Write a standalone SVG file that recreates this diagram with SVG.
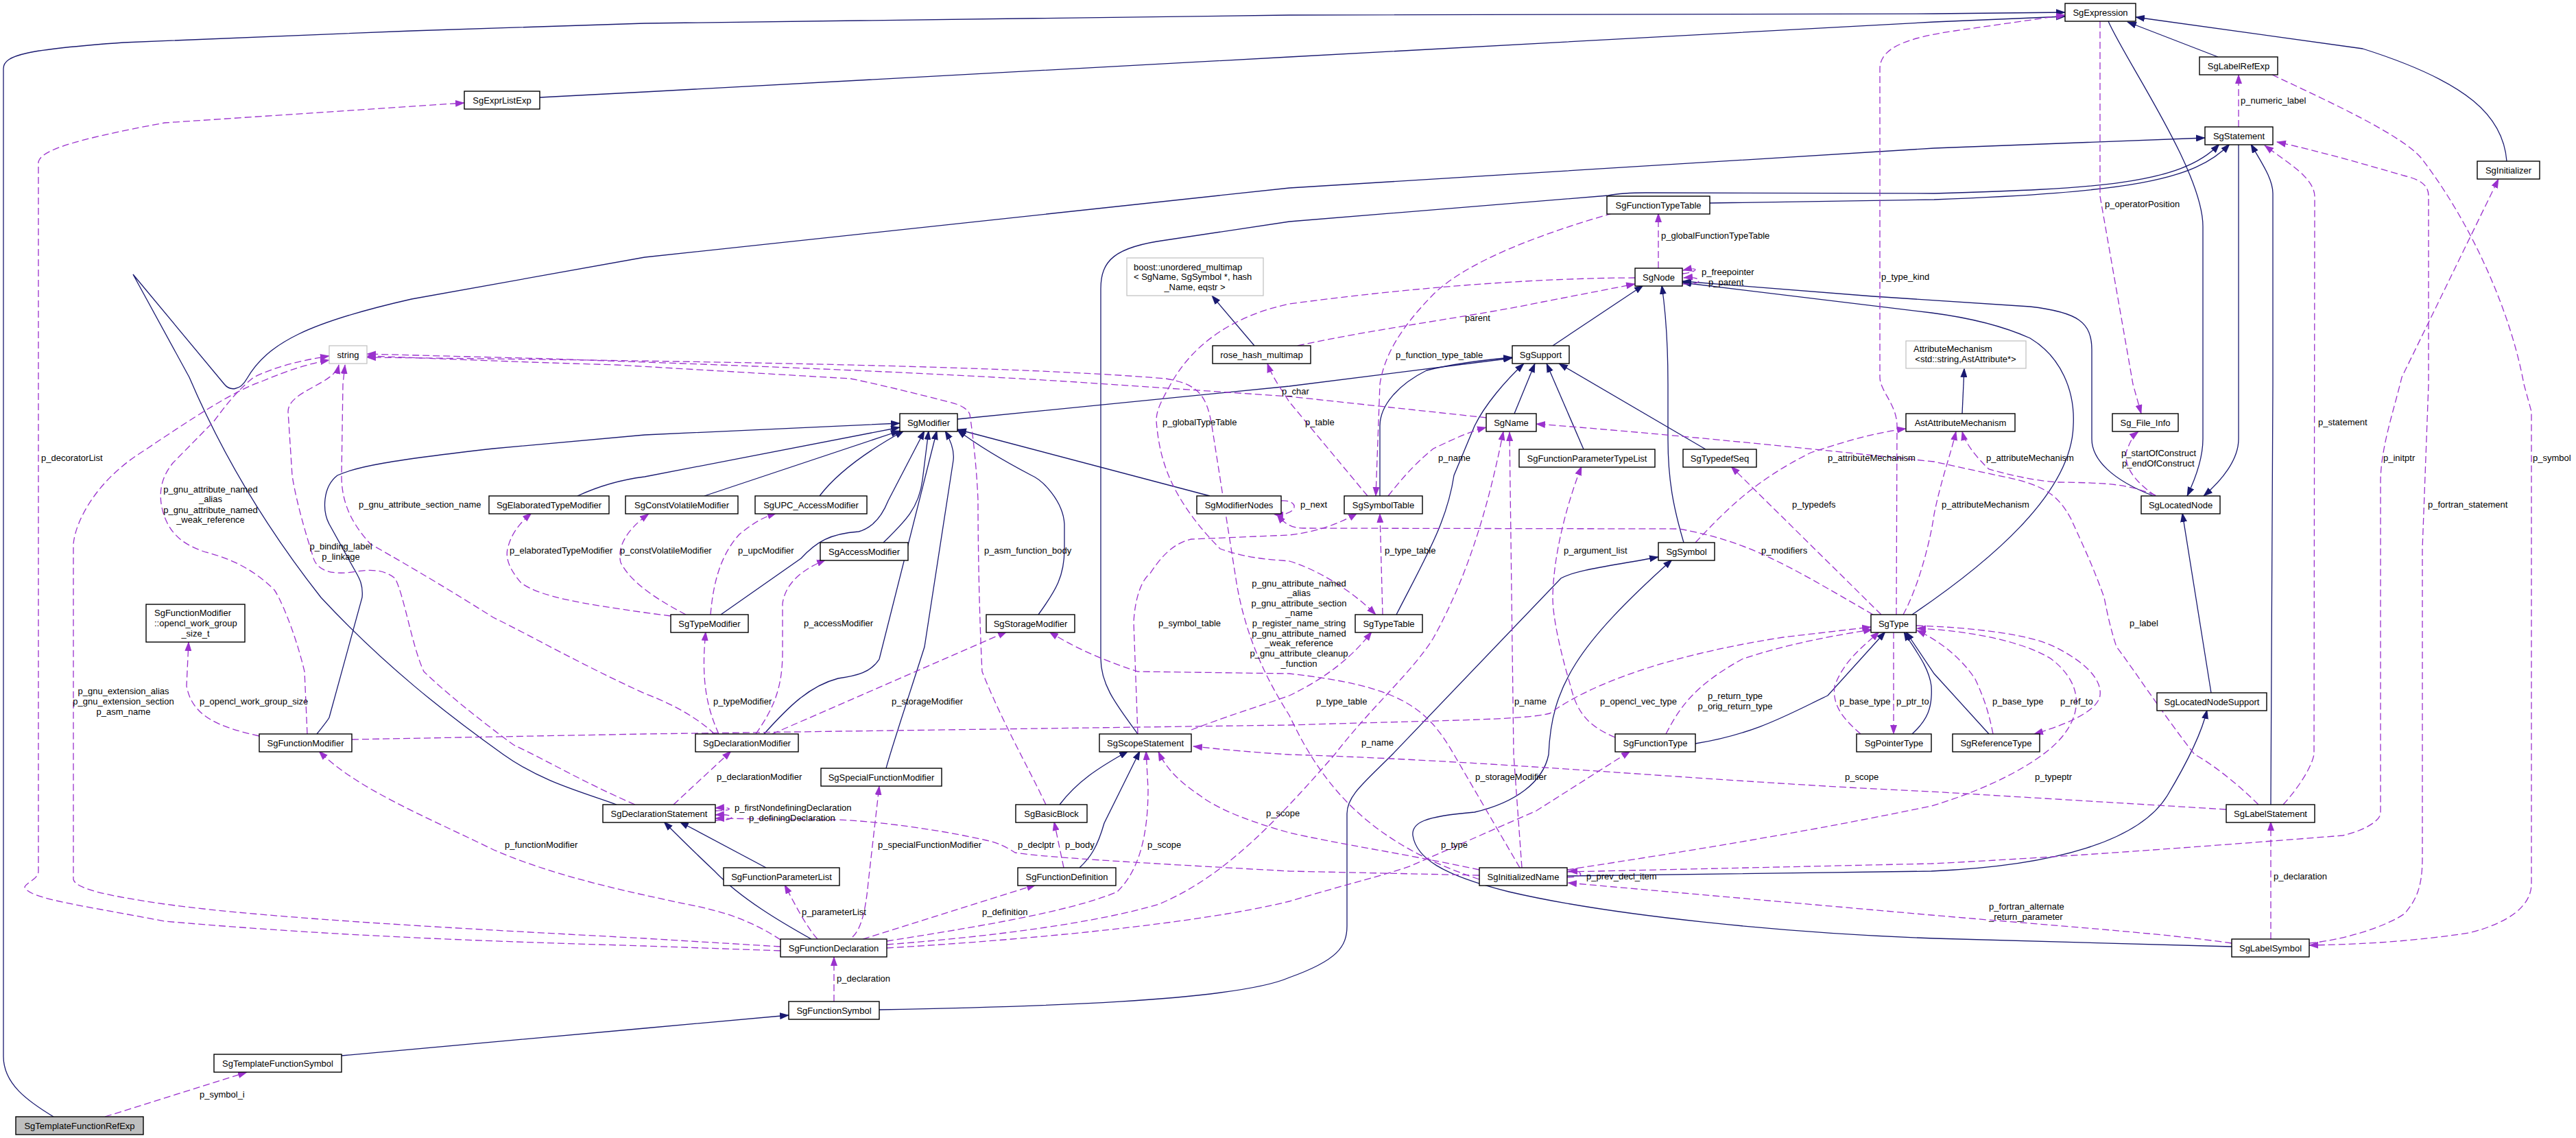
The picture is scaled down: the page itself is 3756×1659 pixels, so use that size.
<svg xmlns="http://www.w3.org/2000/svg" width="3756" height="1659" viewBox="0 0 3756 1659">
<defs>
<marker id="an" viewBox="0 0 14 10" refX="13" refY="5" markerWidth="14" markerHeight="10" markerUnits="userSpaceOnUse" orient="auto"><path d="M0,0 L14,5 L0,10 z" fill="#191970"/></marker>
<marker id="ap" viewBox="0 0 14 10" refX="13" refY="5" markerWidth="14" markerHeight="10" markerUnits="userSpaceOnUse" orient="auto"><path d="M0,0 L14,5 L0,10 z" fill="#9a32cd"/></marker>
<style>
.i{fill:none;stroke:#191970;stroke-width:1.3;marker-end:url(#an)}
.u{fill:none;stroke:#9a32cd;stroke-width:1.3;stroke-dasharray:10,5;marker-end:url(#ap)}
.n rect{fill:#fff;stroke:#000;stroke-width:1.4}
.x rect{fill:#fff;stroke:#bfbfbf;stroke-width:1.2}
text{font-family:"Liberation Sans",Arial,sans-serif;font-size:13px;fill:#000}
.n text,.x text{text-anchor:middle}
.m{text-anchor:middle}
</style>
</defs>
<rect width="3756" height="1659" fill="#fff"/>
<g id="connectors">
<path class="i" d="M78,1628 C40,1605 5,1580 5,1540 L5,100 C5,80 40,72 180,62 L600,45 L940,34 L1880,22 L2820,20 L3011,18"/>
<path class="i" d="M787,142 L940,134 L1880,83 L2820,32 L3011,24"/>
<path class="i" d="M3234,83 L3102,32"/>
<path class="i" d="M3655,235 C3650,170 3600,120 3445,71 L3114,25"/>
<path class="i" d="M3074,31 C3100,90 3212,250 3212,330 L3212,640 C3212,670 3200,700 3189,723"/>
<path class="i" d="M3264,210 L3264,640 C3264,670 3240,700 3213,723"/>
<path class="i" d="M3140,723 C3080,700 3050,670 3050,640 L3050,510 C3050,470 3030,455 2960,447 L2731,432 L2453,410"/>
<path class="i" d="M2788,896 C2900,820 3020,720 3023,621 C3026,570 3005,520 2960,493 C2920,475 2870,463 2816,456 L2453,412"/>
<path class="i" d="M2264,504 L2396,416"/>
<path class="i" d="M2455,791 C2440,740 2432,700 2432,640 L2432,560 C2432,500 2428,450 2423,416"/>
<path class="i" d="M1829,504 L1767,431"/>
<path class="i" d="M2493,296 L2820,291 C3100,280 3200,264 3251,210"/>
<path class="i" d="M1659,1070 C1630,1030 1605,1000 1605,960 L1605,421 C1605,380 1625,360 1700,350 L1880,323 L2345,285 C2360,282 2380,281 2400,281 L2820,282 C3050,275 3180,270 3236,210"/>
<path class="i" d="M899,1173 C850,1155 790,1140 734,1100 C650,1040 560,970 468,871 C420,810 340,700 276,550 L194,400 L327,560 C335,570 350,570 360,552 C390,500 450,470 600,436 L940,375 L1880,274 L2820,216 L3215,201"/>
<path class="i" d="M3311,1173 L3314,560 L3314,282 C3314,260 3296,235 3282,210"/>
<path class="i" d="M3224,1010 L3182,748"/>
<path class="i" d="M2285,1277 L2816,1270 C3000,1262 3120,1225 3160,1160 C3190,1110 3210,1070 3218,1035"/>
<path class="i" d="M3254,1380 L2820,1368 C2600,1360 2350,1335 2200,1300 C2100,1275 2065,1250 2060,1218 C2058,1200 2075,1190 2150,1184 C2210,1170 2250,1140 2258,1100 C2262,1000 2300,940 2438,816"/>
<path class="i" d="M1282,1472 C1500,1468 1800,1460 1880,1425 C1950,1400 1964,1380 1964,1350 L1964,1186 C1964,1160 1990,1140 2030,1100 L2276,843 C2300,830 2350,825 2418,812"/>
<path class="i" d="M498,1539 L940,1499 L1150,1480"/>
<path class="i" d="M1183,1369 C1140,1345 1080,1310 1042,1270 C1010,1240 990,1220 968,1198"/>
<path class="i" d="M1117,1265 L991,1198"/>
<path class="i" d="M1545,1173 C1570,1140 1600,1120 1645,1095"/>
<path class="i" d="M1574,1265 C1590,1250 1600,1235 1610,1200 L1662,1095"/>
<path class="i" d="M1396,611 L1880,563 L2205,522"/>
<path class="i" d="M2012,723 L2012,621 C2012,590 2040,560 2080,540 C2120,530 2160,525 2205,521"/>
<path class="i" d="M2036,896 C2080,810 2110,760 2120,693 L2150,621 C2165,590 2195,555 2222,530"/>
<path class="i" d="M2208,603 L2238,530"/>
<path class="i" d="M2309,655 L2255,530"/>
<path class="i" d="M2487,655 L2273,530"/>
<path class="i" d="M1764,723 L1396,626"/>
<path class="i" d="M842,723 C870,710 900,700 940,695 L1312,623"/>
<path class="i" d="M1027,723 L1312,628"/>
<path class="i" d="M1195,723 C1220,690 1260,660 1318,628"/>
<path class="i" d="M1051,896 L1168,814 C1190,790 1210,778 1252,775 C1270,770 1285,755 1295,730 L1348,628"/>
<path class="i" d="M1288,791 C1320,760 1340,740 1345,700 L1354,628"/>
<path class="i" d="M1114,1070 C1150,1030 1180,1000 1222,989 C1250,985 1270,980 1282,961 L1366,628"/>
<path class="i" d="M1292,1120 C1300,1090 1330,1000 1348,943 L1390,671 C1392,655 1385,640 1378,628"/>
<path class="i" d="M1514,896 C1540,860 1552,840 1552,800 L1552,764 C1550,730 1520,700 1504,693 C1460,670 1420,645 1396,627"/>
<path class="i" d="M462,1070 C470,1060 478,1050 480,1046 L528,871 C530,850 522,840 516,829 L480,764 C470,745 470,710 492,693 C520,680 570,671 719,654 L940,634 L1312,617"/>
<path class="i" d="M2472,1084 C2560,1070 2610,1040 2665,1014 L2749,921"/>
<path class="i" d="M2788,1070 C2810,1050 2818,1032 2816,1000 C2812,970 2790,945 2776,921"/>
<path class="i" d="M2900,1070 L2820,982 L2779,921"/>
<path class="i" d="M2861,603 L2864,537"/>

<path class="u" d="M153,1628 L360,1563"/>
<path class="u" d="M1216,1460 L1216,1395"/>
<path class="u" d="M1192,1369 C1175,1350 1160,1320 1144,1290"/>
<path class="u" d="M1243,1366 C1255,1355 1262,1330 1266,1286 L1282,1146"/>
<path class="u" d="M1258,1369 L1510,1290"/>
<path class="u" d="M1551,1265 L1537,1198"/>
<path class="u" d="M1293,1372 C1400,1355 1560,1330 1629,1300 C1660,1270 1674,1220 1674,1150 L1671,1095"/>
<path class="u" d="M1293,1382 C1500,1370 1750,1346 1880,1314 C1960,1290 2040,1270 2060,1261 L2240,1182 L2377,1095"/>
<path class="u" d="M1293,1377 C1450,1365 1600,1345 1690,1318 C1780,1280 1850,1210 1946,1100 C2000,1030 2060,979 2090,930 C2140,840 2170,740 2192,629"/>
<path class="u" d="M1138,1370 C1100,1345 1060,1329 1000,1318 L940,1305 C850,1285 780,1265 720,1239 C620,1190 520,1150 465,1095"/>
<path class="u" d="M1138,1386 L940,1379 C700,1372 480,1364 240,1343 C120,1320 40,1310 36,1293 C40,1285 56,1282 56,1270 L56,236 C60,220 100,205 240,179 L677,150"/>
<path class="u" d="M1138,1380 L940,1368 C700,1355 400,1340 240,1318 C150,1305 110,1295 107,1282 L107,793 C110,760 140,700 210,657 C280,610 340,570 384,555 C420,540 450,530 480,525"/>
<path class="u" d="M378,1073 C320,1060 280,1045 272,1000 L275,936"/>
<path class="u" d="M513,1078 L940,1070 L1880,1057 C2100,1050 2220,1050 2260,1040 C2300,1010 2400,960 2600,929 L2728,914"/>
<path class="u" d="M448,1070 L444,979 C430,920 408,871 400,860 C370,830 336,814 300,805 C270,795 245,780 236,740 C230,710 240,690 252,675 L312,614 C330,590 345,570 370,550 C400,535 440,525 480,519"/>
<path class="u" d="M926,1173 C850,1140 800,1110 749,1086 C700,1050 650,1010 618,979 C600,940 590,870 576,843 C560,830 540,830 520,833 C480,840 460,830 456,810 C440,760 430,720 426,693 L420,600 C420,570 488,560 494,532"/>
<path class="u" d="M1042,1070 C1020,1050 990,1030 940,1011 C850,970 780,930 719,900 C640,850 570,810 540,793 C510,760 498,730 498,693 L500,560 L503,532"/>
<path class="u" d="M978,898 L940,893 C850,880 790,871 760,850 C743,830 737,815 740,800 C745,780 755,765 775,748"/>
<path class="u" d="M1000,896 C960,875 920,850 905,820 C900,800 910,775 946,749"/>
<path class="u" d="M1036,896 C1040,850 1050,810 1078,779 C1095,765 1110,755 1132,748"/>
<path class="u" d="M1048,1070 C1030,1030 1022,990 1029,921"/>
<path class="u" d="M1102,1070 C1130,1030 1141,1000 1141,950 L1141,880 C1145,850 1170,830 1204,816"/>
<path class="u" d="M1126,1070 L1468,921"/>
<path class="u" d="M2216,1265 L2120,1100 C2080,1030 2040,1000 1880,982 L1659,979 C1600,960 1560,940 1530,921"/>
<path class="u" d="M982,1173 L1066,1095"/>
<path class="u" d="M1043,1182 C1070,1182 1070,1176 1043,1178"/>
<path class="u" d="M1043,1196 C1075,1196 1075,1186 1043,1188"/>
<path class="u" d="M2157,1276 L1880,1270 C1700,1260 1520,1250 1480,1243 C1460,1230 1450,1228 1438,1225 C1350,1205 1250,1195 1216,1195 L1043,1193"/>
<path class="u" d="M1525,1173 C1500,1120 1460,1050 1432,979 C1428,900 1426,800 1426,729 C1424,680 1418,630 1414,604 C1410,595 1400,590 1384,586 C1320,570 1280,560 1240,552 L900,532 C700,526 600,521 535,519"/>
<path class="u" d="M2168,609 L1880,578 L1570,557 C1300,540 1000,530 800,523 L535,516"/>
<path class="u" d="M2157,1282 C2000,1230 1930,1150 1880,1043 C1840,980 1815,920 1803,850 L1767,621 C1760,580 1750,560 1700,552 C1500,535 1100,527 535,521"/>
<path class="u" d="M2351,311 C2250,340 2140,380 2090,429 C2040,480 2018,520 2012,560 L2006,723"/>
<path class="u" d="M2418,391 L2418,311"/>
<path class="u" d="M2453,399 C2478,396 2478,388 2454,394"/>
<path class="u" d="M2453,414 C2485,416 2485,402 2455,405"/>
<path class="u" d="M1892,504 C2000,480 2150,461 2250,440 L2384,414"/>
<path class="u" d="M2384,405 C2300,405 2120,411 1880,443 C1800,460 1740,500 1707,560 C1690,590 1686,600 1686,614 C1690,660 1700,720 1779,800 C1820,815 1860,816 1880,818 C1920,830 1970,860 2006,896"/>
<path class="u" d="M1659,1070 L1653,907 C1655,870 1665,845 1677,836 C1700,800 1720,790 1737,786 L1880,780 C1920,775 1950,765 1979,748"/>
<path class="u" d="M1994,723 L1880,586 C1870,570 1855,550 1848,530"/>
<path class="u" d="M1868,730 C1895,728 1895,752 1858,750"/>
<path class="u" d="M2731,896 C2600,820 2550,790 2449,771 L1900,770 C1880,770 1870,760 1862,750"/>
<path class="u" d="M2024,723 C2050,690 2070,670 2090,654 C2120,640 2140,630 2167,623"/>
<path class="u" d="M2219,1265 L2207,1100 L2201,630"/>
<path class="u" d="M3293,1173 C3260,1140 3220,1110 3200,1100 C3160,1050 3100,960 3086,943 C3075,910 3070,880 3068,871 C3050,820 3030,780 3020,757 C3000,720 2980,706 2912,693 L2820,673 C2600,650 2400,630 2240,618"/>
<path class="u" d="M3143,722 C3100,705 3074,704 3000,703 C2960,700 2930,692 2900,684 C2880,665 2865,645 2861,629"/>
<path class="u" d="M2775,896 C2800,850 2816,780 2820,750 C2830,700 2845,660 2852,629"/>
<path class="u" d="M2472,791 C2520,740 2560,700 2640,660 C2700,640 2740,630 2779,625"/>
<path class="u" d="M2743,896 L2524,680"/>
<path class="u" d="M2765,896 L2766,621 C2766,590 2741,570 2741,550 L2741,100 C2741,70 2780,55 2850,45 L3011,22"/>
<path class="u" d="M3062,31 L3062,286 L3110,560 L3122,603"/>
<path class="u" d="M3143,723 C3110,700 3098,680 3100,660 C3105,645 3110,635 3118,629"/>
<path class="u" d="M3264,185 L3264,109"/>
<path class="u" d="M3313,109 C3400,150 3500,196 3530,230 C3600,320 3660,450 3680,560 L3691,600 L3691,1290 C3690,1320 3660,1345 3600,1360 C3500,1375 3420,1377 3367,1378"/>
<path class="u" d="M3367,1375 C3420,1370 3480,1350 3506,1332 C3525,1310 3532,1290 3532,1250 L3532,800 L3541,560 L3541,286 C3541,270 3530,262 3505,256 C3450,240 3380,220 3320,207"/>
<path class="u" d="M3329,1173 C3350,1150 3370,1120 3374,1100 L3375,286 C3374,260 3340,240 3302,212"/>
<path class="u" d="M3311,1369 L3311,1198"/>
<path class="u" d="M2285,1271 L2816,1259 C3000,1250 3200,1235 3416,1218 C3450,1210 3470,1196 3471,1186 L3471,700 C3472,650 3490,600 3502,550 L3643,261"/>
<path class="u" d="M2285,1279 C2310,1279 2312,1270 2287,1270"/>
<path class="u" d="M3254,1375 C3150,1360 3000,1350 2816,1334 L2286,1287"/>
<path class="u" d="M3246,1180 L2816,1154 C2500,1140 2200,1110 1880,1100 C1800,1095 1760,1090 1740,1088"/>
<path class="u" d="M2157,1268 C2050,1245 1950,1230 1880,1214 C1830,1200 1779,1182 1750,1160 C1720,1140 1700,1120 1689,1096"/>
<path class="u" d="M2285,1268 C2400,1250 2600,1220 2816,1175 C2900,1150 2980,1110 3010,1070 C3040,1030 3030,990 2990,960 C2940,930 2850,918 2795,916"/>
<path class="u" d="M2761,921 L2761,1070"/>
<path class="u" d="M2713,1070 C2690,1050 2671,1030 2675,1000 C2690,960 2720,940 2740,921"/>
<path class="u" d="M2794,912 C2880,915 2960,925 2996,943 C3040,965 3065,990 3062,1014 C3058,1040 3000,1060 2966,1070"/>
<path class="u" d="M2906,1070 C2900,1040 2894,1020 2880,990 C2860,960 2830,935 2795,919"/>
<path class="u" d="M2355,1075 C2320,1060 2300,1043 2290,1000 C2275,950 2264,900 2264,871 C2265,800 2290,720 2306,680"/>
<path class="u" d="M2429,1070 C2450,1030 2470,1000 2540,961 C2600,940 2680,925 2730,918"/>
<path class="u" d="M1737,1064 C1800,1040 1850,1025 1880,1014 C1930,990 1970,960 2000,921"/>
<path class="u" d="M2016,896 L2012,749"/>
</g>
<g id="edge-labels">
<text x="291" y="1600">p_symbol_i</text>
<text x="1220" y="1431">p_declaration</text>
<text x="1169" y="1334">p_parameterList</text>
<text x="1280" y="1236">p_specialFunctionModifier</text>
<text x="1432" y="1334">p_definition</text>
<text x="1484" y="1236">p_declptr</text>
<text x="1553" y="1236">p_body</text>
<text x="1673" y="1236">p_scope</text>
<text x="2101" y="1236">p_type</text>
<text x="1985" y="1087">p_name</text>
<text x="736" y="1236">p_functionModifier</text>
<text x="60" y="672">p_decoratorList</text>
<text class="m" x="180" y="1012">p_gnu_extension_alias</text>
<text class="m" x="180" y="1027">p_gnu_extension_section</text>
<text class="m" x="180" y="1042">p_asm_name</text>
<text x="291" y="1027">p_opencl_work_group_size</text>
<text x="2333" y="1027">p_opencl_vec_type</text>
<text class="m" x="307" y="718">p_gnu_attribute_named</text>
<text class="m" x="307" y="732">_alias</text>
<text class="m" x="307" y="748">p_gnu_attribute_named</text>
<text class="m" x="307" y="762">_weak_reference</text>
<text x="523" y="740">p_gnu_attribute_section_name</text>
<text class="m" x="497" y="801">p_binding_label</text>
<text class="m" x="497" y="816">p_linkage</text>
<text x="743" y="807">p_elaboratedTypeModifier</text>
<text x="904" y="807">p_constVolatileModifier</text>
<text x="1076" y="807">p_upcModifier</text>
<text x="1040" y="1027">p_typeModifier</text>
<text x="1172" y="913">p_accessModifier</text>
<text x="1300" y="1027">p_storageModifier</text>
<text x="2151" y="1137">p_storageModifier</text>
<text x="1045" y="1137">p_declarationModifier</text>
<text x="1071" y="1182">p_firstNondefiningDeclaration</text>
<text x="1092" y="1197">p_definingDeclaration</text>
<text x="1435" y="807">p_asm_function_body</text>
<text x="1869" y="575">p_char</text>
<text class="m" x="1894" y="855">p_gnu_attribute_named</text>
<text class="m" x="1894" y="869">_alias</text>
<text class="m" x="1894" y="884">p_gnu_attribute_section</text>
<text class="m" x="1894" y="898">_name</text>
<text class="m" x="1894" y="913">p_register_name_string</text>
<text class="m" x="1894" y="928">p_gnu_attribute_named</text>
<text class="m" x="1894" y="942">_weak_reference</text>
<text class="m" x="1894" y="957">p_gnu_attribute_cleanup</text>
<text class="m" x="1894" y="972">_function</text>
<text x="2035" y="522">p_function_type_table</text>
<text x="2422" y="348">p_globalFunctionTypeTable</text>
<text x="2481" y="401">p_freepointer</text>
<text x="2491" y="416">p_parent</text>
<text x="2136" y="468">parent</text>
<text x="2743" y="408">p_type_kind</text>
<text x="1695" y="620">p_globalTypeTable</text>
<text x="1689" y="913">p_symbol_table</text>
<text x="1903" y="620">p_table</text>
<text x="1896" y="740">p_next</text>
<text x="2568" y="807">p_modifiers</text>
<text x="2097" y="672">p_name</text>
<text x="2208" y="1027">p_name</text>
<text x="3105" y="913">p_label</text>
<text x="2896" y="672">p_attributeMechanism</text>
<text x="2831" y="740">p_attributeMechanism</text>
<text x="2665" y="672">p_attributeMechanism</text>
<text x="2613" y="740">p_typedefs</text>
<text x="3069" y="302">p_operatorPosition</text>
<text x="3093" y="665">p_startOfConstruct</text>
<text x="3094" y="680">p_endOfConstruct</text>
<text x="3267" y="151">p_numeric_label</text>
<text x="3693" y="672">p_symbol</text>
<text x="3540" y="740">p_fortran_statement</text>
<text x="3380" y="620">p_statement</text>
<text x="3315" y="1282">p_declaration</text>
<text x="3475" y="672">p_initptr</text>
<text x="2313" y="1282">p_prev_decl_item</text>
<text x="2900" y="1326">p_fortran_alternate</text>
<text x="2900" y="1341">_return_parameter</text>
<text x="2690" y="1137">p_scope</text>
<text x="1846" y="1190">p_scope</text>
<text x="2967" y="1137">p_typeptr</text>
<text x="2280" y="807">p_argument_list</text>
<text class="m" x="2530" y="1019">p_return_type</text>
<text class="m" x="2530" y="1034">p_orig_return_type</text>
<text x="2682" y="1027">p_base_type</text>
<text x="2765" y="1027">p_ptr_to</text>
<text x="2905" y="1027">p_base_type</text>
<text x="3004" y="1027">p_ref_to</text>
<text x="1919" y="1027">p_type_table</text>
<text x="2019" y="807">p_type_table</text>
</g>
<g id="SgTemplateFunctionRefExp" class="n"><rect x="23" y="1628" width="186" height="26" style="fill:#bfbfbf"/><text x="116" y="1646">SgTemplateFunctionRefExp</text></g>
<g id="SgExprListExp" class="n"><rect x="677" y="133" width="110" height="26"/><text x="732" y="151">SgExprListExp</text></g>
<g id="string" class="x"><rect x="480" y="504" width="55" height="26"/><text x="507.5" y="522">string</text></g>
<g id="SgExpression" class="n"><rect x="3011" y="5" width="103" height="26"/><text x="3062.5" y="23">SgExpression</text></g>
<g id="SgLabelRefExp" class="n"><rect x="3207" y="83" width="114" height="26"/><text x="3264" y="101">SgLabelRefExp</text></g>
<g id="SgStatement" class="n"><rect x="3215" y="185" width="99" height="26"/><text x="3264.5" y="203">SgStatement</text></g>
<g id="SgInitializer" class="n"><rect x="3612" y="235" width="91" height="26"/><text x="3657.5" y="253">SgInitializer</text></g>
<g id="SgFunctionTypeTable" class="n"><rect x="2343" y="286" width="150" height="26"/><text x="2418" y="304">SgFunctionTypeTable</text></g>
<g id="boost_unordered_multimap" class="x"><rect x="1643" y="376" width="199" height="55"/><text x="1653" y="394" style="text-anchor:start">boost::unordered_multimap</text><text x="1653" y="408" style="text-anchor:start">&lt; SgName, SgSymbol *, hash</text><text x="1742" y="423">_Name, eqstr &gt;</text></g>
<g id="rose_hash_multimap" class="n"><rect x="1768" y="504" width="143" height="26"/><text x="1839.5" y="522">rose_hash_multimap</text></g>
<g id="SgNode" class="n"><rect x="2384" y="391" width="69" height="26"/><text x="2418.5" y="409">SgNode</text></g>
<g id="SgSupport" class="n"><rect x="2205" y="504" width="83" height="26"/><text x="2246.5" y="522">SgSupport</text></g>
<g id="AttributeMechanism" class="x"><rect x="2779" y="497" width="175" height="40"/><text x="2790" y="513" style="text-anchor:start">AttributeMechanism</text><text x="2866" y="528">&lt;std::string,AstAttribute*&gt;</text></g>
<g id="AstAttributeMechanism" class="n"><rect x="2779" y="603" width="159" height="26"/><text x="2858.5" y="621">AstAttributeMechanism</text></g>
<g id="Sg_File_Info" class="n"><rect x="3080" y="603" width="96" height="26"/><text x="3128" y="621">Sg_File_Info</text></g>
<g id="SgLocatedNode" class="n"><rect x="3122" y="723" width="115" height="26"/><text x="3179.5" y="741">SgLocatedNode</text></g>
<g id="SgLocatedNodeSupport" class="n"><rect x="3145" y="1010" width="160" height="26"/><text x="3225" y="1028">SgLocatedNodeSupport</text></g>
<g id="SgReferenceType" class="n"><rect x="2847" y="1070" width="127" height="26"/><text x="2910.5" y="1088">SgReferenceType</text></g>
<g id="SgLabelStatement" class="n"><rect x="3246" y="1173" width="129" height="26"/><text x="3310.5" y="1191">SgLabelStatement</text></g>
<g id="SgLabelSymbol" class="n"><rect x="3254" y="1369" width="113" height="26"/><text x="3310.5" y="1387">SgLabelSymbol</text></g>
<g id="SgInitializedName" class="n"><rect x="2157" y="1265" width="128" height="26"/><text x="2221" y="1283">SgInitializedName</text></g>
<g id="SgPointerType" class="n"><rect x="2707" y="1070" width="109" height="26"/><text x="2761.5" y="1088">SgPointerType</text></g>
<g id="SgFunctionType" class="n"><rect x="2355" y="1070" width="117" height="26"/><text x="2413.5" y="1088">SgFunctionType</text></g>
<g id="SgSymbol" class="n"><rect x="2418" y="791" width="82" height="26"/><text x="2459" y="809">SgSymbol</text></g>
<g id="SgTypedefSeq" class="n"><rect x="2454" y="655" width="107" height="26"/><text x="2507.5" y="673">SgTypedefSeq</text></g>
<g id="SgFunctionParameterTypeList" class="n"><rect x="2215" y="655" width="198" height="26"/><text x="2314" y="673">SgFunctionParameterTypeList</text></g>
<g id="SgName" class="n"><rect x="2167" y="603" width="73" height="26"/><text x="2203.5" y="621">SgName</text></g>
<g id="SgSymbolTable" class="n"><rect x="1960" y="723" width="114" height="26"/><text x="2017" y="741">SgSymbolTable</text></g>
<g id="SgTypeTable" class="n"><rect x="1976" y="896" width="98" height="26"/><text x="2025" y="914">SgTypeTable</text></g>
<g id="SgType" class="n"><rect x="2728" y="896" width="66" height="26"/><text x="2761" y="914">SgType</text></g>
<g id="SgModifier" class="n"><rect x="1312" y="603" width="84" height="26"/><text x="1354" y="621">SgModifier</text></g>
<g id="SgModifierNodes" class="n"><rect x="1745" y="723" width="123" height="26"/><text x="1806.5" y="741">SgModifierNodes</text></g>
<g id="SgUPC_AccessModifier" class="n"><rect x="1101" y="723" width="163" height="26"/><text x="1182.5" y="741">SgUPC_AccessModifier</text></g>
<g id="SgConstVolatileModifier" class="n"><rect x="912" y="723" width="164" height="26"/><text x="994" y="741">SgConstVolatileModifier</text></g>
<g id="SgElaboratedTypeModifier" class="n"><rect x="713" y="723" width="175" height="26"/><text x="800.5" y="741">SgElaboratedTypeModifier</text></g>
<g id="SgAccessModifier" class="n"><rect x="1196" y="791" width="128" height="26"/><text x="1260" y="809">SgAccessModifier</text></g>
<g id="SgTypeModifier" class="n"><rect x="978" y="896" width="113" height="26"/><text x="1034.5" y="914">SgTypeModifier</text></g>
<g id="SgStorageModifier" class="n"><rect x="1438" y="896" width="129" height="26"/><text x="1502.5" y="914">SgStorageModifier</text></g>
<g id="SgDeclarationModifier" class="n"><rect x="1014" y="1070" width="150" height="26"/><text x="1089" y="1088">SgDeclarationModifier</text></g>
<g id="SgScopeStatement" class="n"><rect x="1603" y="1070" width="134" height="26"/><text x="1670" y="1088">SgScopeStatement</text></g>
<g id="SgFunctionModifier_opencl_work_group_size_t" class="n"><rect x="213" y="881" width="144" height="55"/><text x="225" y="898" style="text-anchor:start">SgFunctionModifier</text><text x="225" y="913" style="text-anchor:start">::opencl_work_group</text><text x="285" y="928">_size_t</text></g>
<g id="SgFunctionModifier" class="n"><rect x="378" y="1070" width="135" height="26"/><text x="445.5" y="1088">SgFunctionModifier</text></g>
<g id="SgDeclarationStatement" class="n"><rect x="879" y="1173" width="164" height="26"/><text x="961" y="1191">SgDeclarationStatement</text></g>
<g id="SgSpecialFunctionModifier" class="n"><rect x="1197" y="1120" width="176" height="26"/><text x="1285" y="1138">SgSpecialFunctionModifier</text></g>
<g id="SgBasicBlock" class="n"><rect x="1481" y="1173" width="104" height="26"/><text x="1533" y="1191">SgBasicBlock</text></g>
<g id="SgFunctionParameterList" class="n"><rect x="1055" y="1265" width="169" height="26"/><text x="1139.5" y="1283">SgFunctionParameterList</text></g>
<g id="SgFunctionDefinition" class="n"><rect x="1484" y="1265" width="143" height="26"/><text x="1555.5" y="1283">SgFunctionDefinition</text></g>
<g id="SgFunctionDeclaration" class="n"><rect x="1138" y="1369" width="155" height="26"/><text x="1215.5" y="1387">SgFunctionDeclaration</text></g>
<g id="SgFunctionSymbol" class="n"><rect x="1150" y="1460" width="132" height="26"/><text x="1216" y="1478">SgFunctionSymbol</text></g>
<g id="SgTemplateFunctionSymbol" class="n"><rect x="312" y="1537" width="186" height="26"/><text x="405" y="1555">SgTemplateFunctionSymbol</text></g>
</svg>
